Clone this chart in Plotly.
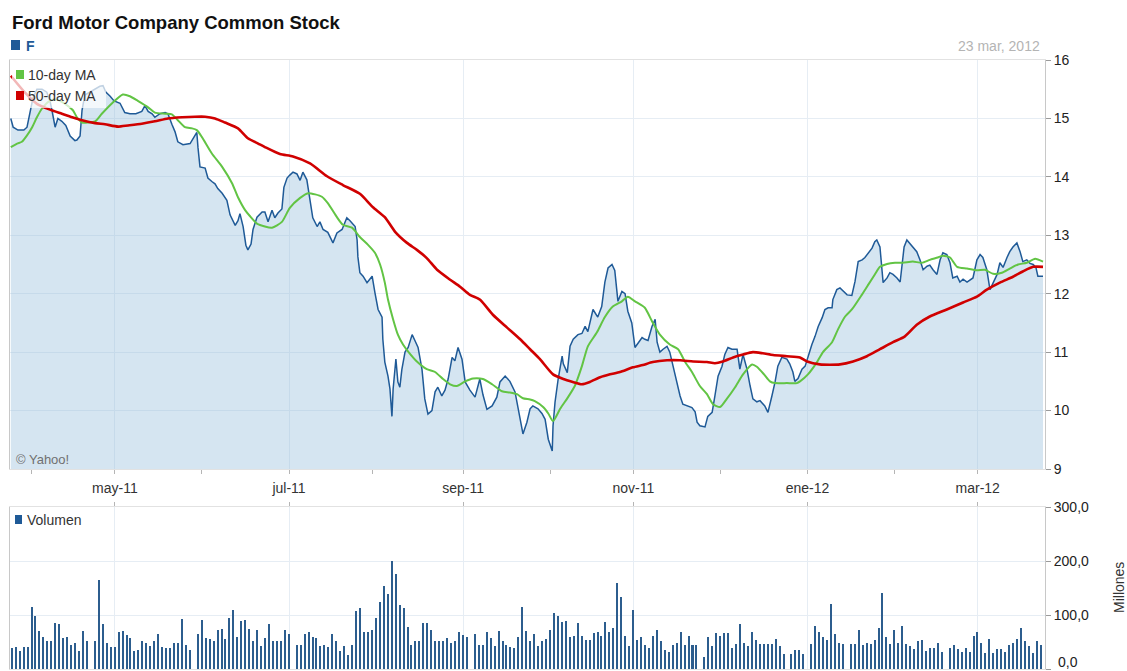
import pandas as pd
import plotly.graph_objects as go

# ---------------- data ----------------
# x positions are weekday positions counted from Fri 2011-03-25 (0) to Fri 2012-03-23 (260)
price_pos = [
    -0.3, 0.3, 1.5, 3.0, 3.8, 4.5, 5.3, 6.3, 7.6, 8.8,
    9.6, 10.1, 10.9, 11.6, 12.6, 13.6, 14.7, 15.9, 16.4, 17.2,
    17.7, 18.4, 19.7, 21.0, 22.2, 23.0, 23.7, 24.8, 25.8, 27.3,
    28.5, 29.8, 31.3, 32.8, 33.6, 34.4, 35.4, 36.1, 37.4, 38.7,
    39.4, 40.4, 41.2, 41.9, 43.2, 45.0, 45.7, 46.7, 47.0, 47.5,
    48.8, 49.5, 50.5, 51.3, 52.0, 53.1, 54.3, 55.1, 56.4, 57.1,
    57.6, 58.4, 59.1, 59.6, 60.4, 60.9, 61.9, 63.2, 63.9, 64.7,
    65.7, 66.4, 67.2, 68.2, 68.7, 69.5, 70.2, 71.0, 72.0, 72.8,
    73.5, 74.5, 75.3, 76.0, 77.1, 77.8, 78.6, 79.8, 81.1, 82.1,
    83.4, 84.6, 85.4, 86.7, 87.2, 87.4, 87.9, 88.7, 89.7, 90.5,
    91.0, 91.7, 92.5, 93.5, 93.7, 94.2, 95.0, 95.5, 96.0, 96.3,
    97.0, 97.5, 98.0, 98.5, 99.3, 100.1, 101.1, 101.8, 102.6, 103.6,
    104.3, 105.1, 106.1, 106.9, 107.6, 108.6, 109.4, 110.2, 111.2, 111.9,
    112.7, 113.7, 114.5, 115.7, 117.0, 118.2, 119.0, 120.0, 121.3, 122.5,
    123.3, 124.6, 125.8, 127.1, 127.8, 128.8, 129.1, 130.1, 130.9, 131.6,
    132.9, 133.9, 134.7, 135.5, 136.5, 136.7, 137.2, 138.0, 139.0, 139.3,
    140.3, 141.0, 141.8, 143.0, 144.0, 144.8, 145.5, 146.8, 148.0, 149.0,
    149.8, 150.6, 151.6, 152.3, 153.1, 154.1, 154.9, 155.6, 156.6, 157.4,
    158.2, 159.2, 159.9, 160.7, 161.7, 162.5, 163.0, 163.7, 164.5, 165.5,
    166.2, 167.0, 168.0, 168.8, 169.5, 170.5, 171.8, 172.6, 173.1, 173.8,
    175.1, 175.8, 176.9, 177.6, 178.4, 179.4, 180.1, 180.9, 181.9, 183.2,
    183.9, 184.7, 185.7, 186.5, 187.2, 188.2, 189.0, 190.2, 191.0, 192.0,
    192.8, 193.5, 194.5, 195.8, 196.5, 197.3, 197.8, 198.6, 199.6, 200.4,
    201.1, 202.1, 202.9, 203.7, 204.7, 205.4, 206.2, 207.2, 207.4, 208.4,
    209.2, 210.0, 211.0, 212.2, 213.0, 213.8, 214.8, 215.5, 216.3, 217.3,
    218.0, 218.5, 219.3, 219.8, 220.1, 221.1, 221.8, 222.6, 223.6, 224.4,
    224.9, 225.4, 226.1, 226.9, 227.6, 228.6, 229.4, 230.2, 231.2, 231.9,
    232.7, 233.7, 234.5, 235.2, 236.2, 237.0, 237.7, 238.8, 239.5, 240.3,
    241.3, 242.0, 242.8, 243.8, 244.6, 245.3, 246.3, 247.1, 247.9, 248.9,
    249.6, 250.4, 251.4, 252.1, 252.9, 253.9, 254.7, 255.4, 256.4, 257.2,
    258.0, 258.7, 259.2, 260.5,
]
price_val = [
    15.0, 14.85, 14.8, 14.8, 14.85, 15.1, 15.35, 15.5, 15.5, 15.45,
    15.3, 15.14, 14.85, 15.0, 14.95, 14.88, 14.7, 14.62, 14.63, 14.7,
    15.14, 15.4, 15.45, 15.5, 15.55, 15.56, 15.45, 15.38, 15.3, 15.26,
    15.1, 15.08, 15.08, 15.12, 15.22, 15.12, 15.08, 15.02, 15.08, 15.1,
    15.08, 14.9, 14.77, 14.6, 14.55, 14.57, 14.65, 14.76, 14.5, 14.17,
    14.15, 13.98, 13.92, 13.88, 13.8, 13.72, 13.6, 13.35, 13.17, 13.25,
    13.37, 13.15, 12.83, 12.75, 12.85, 13.1, 13.31, 13.4, 13.4, 13.23,
    13.43, 13.3, 13.38, 13.45, 13.82, 13.98, 14.03, 14.08, 14.05, 13.94,
    14.08, 13.95, 13.6, 13.3, 13.15, 13.23, 13.1, 13.05, 12.87, 13.04,
    13.1, 13.3, 13.25, 13.15, 12.92, 12.63, 12.36, 12.3, 12.19, 12.25,
    12.3, 12.02, 11.73, 11.6, 11.22, 10.83, 10.59, 10.37, 9.9, 10.37,
    10.88, 10.49, 10.4, 10.7, 11.0, 11.08, 11.3, 11.2, 11.08, 10.7,
    10.2, 9.94, 10.0, 10.32, 10.4, 10.25, 10.35, 10.54, 10.91, 10.85,
    11.08, 10.88, 10.49, 10.35, 10.23, 10.54, 10.27, 10.02, 10.08, 10.23,
    10.49, 10.59, 10.5, 10.32, 10.08, 9.74, 9.6, 9.8, 10.03, 10.08,
    10.03, 9.95, 9.85, 9.51, 9.31, 9.74, 10.14, 10.54, 10.93, 10.8,
    10.65, 11.1, 11.22, 11.3, 11.32, 11.44, 11.35, 11.73, 11.6, 11.78,
    12.2, 12.44, 12.5, 12.4, 11.87, 12.04, 12.0, 11.7, 11.5, 11.08,
    11.15, 11.25, 11.22, 11.2, 11.44, 11.56, 11.17, 11.0, 11.05, 11.1,
    11.0, 10.76, 10.49, 10.25, 10.11, 10.08, 10.05, 9.98, 9.8, 9.74,
    9.72, 9.9, 9.97, 10.25, 10.59, 10.76, 10.96, 11.08, 11.05, 11.05,
    10.71, 10.96, 10.71, 10.42, 10.2, 10.15, 10.17, 10.08, 9.97, 10.25,
    10.49, 10.76, 10.91, 10.88, 10.8, 10.66, 10.5, 10.55, 10.71, 10.76,
    10.93, 11.13, 11.27, 11.44, 11.59, 11.73, 11.76, 11.76, 11.9, 12.07,
    12.1, 12.05, 11.98, 11.97, 12.21, 12.55, 12.58, 12.62, 12.7, 12.78,
    12.89, 12.92, 12.8, 12.44, 12.19, 12.27, 12.36, 12.33, 12.27, 12.2,
    12.46, 12.8, 12.92, 12.86, 12.8, 12.72, 12.58, 12.41, 12.47, 12.49,
    12.41, 12.33, 12.58, 12.7, 12.67, 12.53, 12.27, 12.3, 12.2, 12.25,
    12.2, 12.24, 12.27, 12.58, 12.67, 12.62, 12.41, 12.07, 12.2, 12.33,
    12.53, 12.45, 12.62, 12.72, 12.8, 12.87, 12.72, 12.55, 12.58, 12.52,
    12.5, 12.45, 12.3, 12.3,
]

ma10_pos = [
    -0.3, 1.3, 2.5, 3.8, 5.1, 6.3, 7.6, 9.6, 11.4, 13.4,
    15.4, 16.4, 17.7, 19.2, 21.0, 22.7, 25.3, 28.0, 29.8, 31.8,
    34.4, 36.1, 38.7, 40.4, 41.9, 43.7, 45.5, 46.7, 48.0, 50.5,
    53.1, 55.6, 57.1, 58.9, 60.1, 61.9, 63.9, 65.7, 68.2, 70.2,
    72.8, 74.8, 76.6, 78.3, 79.8, 82.1, 83.6, 85.9, 87.9, 89.9,
    91.7, 93.0, 94.2, 95.0, 96.3, 97.5, 98.8, 100.1, 102.3, 104.8,
    106.9, 108.9, 110.7, 112.4, 114.5, 116.5, 119.0, 121.3, 123.8, 125.8,
    127.6, 129.1, 130.9, 132.1, 134.2, 135.5, 136.7, 138.5, 140.5, 142.2,
    144.0, 145.5, 147.8, 149.8, 151.8, 154.1, 155.6, 157.4, 159.9, 161.7,
    163.7, 166.2, 168.3, 170.0, 171.8, 173.8, 175.6, 177.1, 178.9, 180.6,
    182.7, 184.7, 187.0, 188.2, 190.0, 191.5, 192.8, 195.8, 198.3, 199.1,
    201.1, 203.4, 204.9, 207.2, 208.7, 210.5, 212.2, 214.7, 216.4, 218.0,
    219.3, 221.1, 223.1, 225.1, 227.6, 229.9, 231.9, 233.9, 235.2, 237.0,
    238.8, 241.3, 243.8, 245.8, 247.9, 250.1, 252.1, 254.2, 256.4, 258.5, 260.5,
]
ma10_val = [
    14.51, 14.57, 14.6, 14.71, 14.85, 15.02, 15.17, 15.3, 15.32, 15.25,
    15.14, 15.02, 14.93, 14.93, 14.95, 15.08, 15.26, 15.41, 15.38, 15.3,
    15.19, 15.1, 15.08, 15.07, 14.97, 14.85, 14.83, 14.8, 14.68, 14.4,
    14.17, 13.89, 13.65, 13.43, 13.33, 13.2, 13.15, 13.13, 13.23, 13.47,
    13.64, 13.72, 13.7, 13.66, 13.55, 13.31, 13.18, 13.13, 12.97, 12.84,
    12.7, 12.5, 12.19, 11.9, 11.56, 11.3, 11.13, 11.01, 10.84, 10.71,
    10.66, 10.54, 10.45, 10.42, 10.5, 10.55, 10.54, 10.45, 10.33, 10.31,
    10.28, 10.21, 10.19, 10.16, 10.06, 9.95, 9.82, 10.03, 10.23, 10.42,
    10.76, 11.1, 11.34, 11.6, 11.78, 11.87, 11.95, 11.87, 11.76, 11.53,
    11.3, 11.13, 11.05, 10.84, 10.66, 10.42, 10.28, 10.11, 10.06, 10.2,
    10.4, 10.62, 10.79, 10.75, 10.62, 10.5, 10.47, 10.47, 10.47, 10.5,
    10.62, 10.83, 11.0, 11.17, 11.39, 11.61, 11.73, 11.98, 12.16, 12.33,
    12.46, 12.51, 12.53, 12.53, 12.55, 12.53, 12.58, 12.62, 12.65, 12.62,
    12.46, 12.43, 12.4, 12.41, 12.34, 12.36, 12.43, 12.5, 12.53, 12.6, 12.55,
]

ma50_pos = [
    -0.3, 3.3, 6.3, 9.6, 12.6, 15.2, 17.7, 21.0, 23.5, 26.8,
    29.3, 32.8, 36.1, 39.4, 43.0, 46.2, 48.8, 51.3, 53.8, 57.1,
    59.6, 62.2, 63.9, 67.7, 71.0, 75.3, 79.6, 83.6, 87.9, 91.2,
    94.2, 96.8, 99.8, 102.3, 104.8, 107.4, 110.7, 113.2, 115.7, 118.2,
    121.5, 125.1, 128.4, 130.9, 133.4, 136.7, 139.3, 141.7, 144.0, 146.0,
    148.6, 151.1, 153.6, 156.9, 159.4, 161.9, 165.5, 168.8, 172.1, 175.6,
    177.6, 179.6, 182.2, 184.7, 187.2, 189.7, 192.3, 195.8, 199.1, 200.9,
    204.1, 209.2, 212.5, 216.0, 219.3, 222.6, 225.6, 228.6, 231.9, 236.2,
    240.3, 243.8, 246.3, 249.6, 252.9, 255.4, 258.0, 260.5,
]
ma50_val = [
    15.73, 15.44, 15.25, 15.15, 15.08, 15.02, 14.97, 14.92, 14.9, 14.86,
    14.88, 14.91, 14.95, 15.0, 15.02, 15.03, 15.03, 15.0, 14.93, 14.83,
    14.66, 14.57, 14.51, 14.39, 14.35, 14.23, 14.01, 13.86, 13.71, 13.48,
    13.31, 13.06, 12.87, 12.75, 12.61, 12.41, 12.24, 12.12, 11.98, 11.9,
    11.64, 11.42, 11.22, 11.05, 10.88, 10.62, 10.54, 10.49, 10.45, 10.49,
    10.57, 10.62, 10.66, 10.74, 10.78, 10.83, 10.86, 10.86, 10.84, 10.83,
    10.81, 10.84, 10.91, 10.96, 11.0, 10.98, 10.95, 10.93, 10.91, 10.84,
    10.79, 10.79, 10.84, 10.93, 11.05, 11.17, 11.27, 11.47, 11.61, 11.73,
    11.85, 11.95, 12.07, 12.19, 12.29, 12.38, 12.46, 12.46,
]

# daily volume, millions, one value per trading day
volume = [
    38, 40, 33, 40, 40, 115, 98, 70, 60, 51, 51, 85, 83, 58, 60, 45, 48, 33, 70, 52,
    52, 165, 83, 48, 40, 40, 68, 70, 63, 58, 33, 36, 52, 48, 43, 51, 65, 40, 38, 38,
    48, 48, 93, 45, 36,
    65, 90, 58, 55, 52, 73, 75, 55, 95, 110, 60, 88, 90, 75, 51, 73, 43, 58, 83, 51,
    52, 52, 73, 65,
    45, 45, 65, 68, 60, 58, 43, 45, 40, 65, 52, 33, 43, 26, 45, 108, 113, 68, 68, 73,
    95, 125, 153, 138, 200, 176, 118, 113, 78, 45, 52, 51, 85, 85, 73, 51, 52, 51, 58, 48,
    51, 68, 63, 60,
    65, 45, 45, 68, 58, 43, 70, 52, 45, 40, 38, 60, 115, 70, 52, 65, 43, 52, 55, 73,
    103, 98,
    87, 89, 59, 61, 85, 61, 54, 54, 67, 69, 61, 87, 69, 76, 159, 134, 61, 42, 109, 54,
    59, 44, 39, 61, 72, 52, 35, 32, 44, 49, 69, 44, 61, 44, 44,
    22, 59, 42, 66, 61, 66, 66, 39, 47, 84, 49, 42, 69, 54, 47, 47, 47, 47, 56, 42, 27,
    27, 35, 35, 27,
    47, 79, 69, 59, 54, 121, 64, 49, 47,
    47, 47, 72, 44, 49, 47, 54, 76, 141, 59, 47, 72, 49, 79, 47, 42, 37, 52, 54, 34,
    39, 39, 49, 32,
    39, 44, 37, 32, 39, 32, 62, 69, 49, 29, 56, 29, 37, 37, 32, 44, 49, 56, 76, 52,
    42, 29, 52, 44,
]

holidays = ["2011-04-22", "2011-05-30", "2011-07-04", "2011-09-05", "2011-11-24",
            "2011-12-26", "2012-01-02", "2012-01-16", "2012-02-20"]
tick_months = ["2011-05-01", "2011-07-01", "2011-09-01", "2011-11-01", "2012-01-01", "2012-03-01"]
tick_text = ["may-11", "jul-11", "sep-11", "nov-11", "ene-12", "mar-12"]
minor_months = ["2011-04-01", "2011-06-01", "2011-08-01", "2011-10-01", "2011-12-01", "2012-02-01"]
vol_ticks = [0, 100, 200, 300]
vol_ticktext = ["", "100,0", "200,0", "300,0"]   # "0,0" drawn as an annotation (kept inside the page)

assert len(price_pos) == len(price_val)
assert len(ma10_pos) == len(ma10_val)
assert len(ma50_pos) == len(ma50_val)

weekdays = pd.bdate_range("2011-03-25", "2012-03-23")
trading = weekdays[~weekdays.isin(pd.to_datetime(holidays))]
assert len(trading) == len(volume), (len(trading), len(volume))
trade_pos = [weekdays.get_loc(d) for d in trading]


def wpos(d):
    return int(weekdays.searchsorted(pd.Timestamp(d)))


tickvals = [wpos(d) for d in tick_months]
minorvals = [wpos(d) for d in minor_months]

# ---------------- figure ----------------
W, H = 1127, 671
PL, PR, PT, PB = 10, 1045, 60, 669       # plot box in window pixels
ML, MR, MT, MB = PL, W - PR, PT, H - PB
plot_h = H - MT - MB
plot_w = W - ML - MR


def py(ypix):  # window pixel row -> paper y
    return (PB - ypix) / plot_h


def px(xpix):  # window pixel column -> paper x
    return (xpix - PL) / plot_w


price_dom = [py(469), 1.0]
vol_dom = [0.0, py(507)]

BLUE = "#1f5a97"
GREEN = "#62c444"
RED = "#d00000"
GRID = "#e6edf4"
FONT = "Liberation Sans, Arial, sans-serif"

fig = go.Figure()
fig.add_trace(go.Scatter(
    x=price_pos, y=price_val, mode="lines", name="F",
    line=dict(color=BLUE, width=1.5),
    fill="tozeroy", fillcolor="rgba(150,190,220,0.40)",
    xaxis="x", yaxis="y", hoverinfo="skip"))
fig.add_trace(go.Scatter(
    x=ma10_pos, y=ma10_val, mode="lines", name="10-day MA",
    line=dict(color=GREEN, width=2, shape="spline", smoothing=0.6),
    xaxis="x", yaxis="y", hoverinfo="skip"))
fig.add_trace(go.Scatter(
    x=ma50_pos, y=ma50_val, mode="lines", name="50-day MA",
    line=dict(color=RED, width=2.6, shape="spline", smoothing=0.6),
    xaxis="x", yaxis="y", hoverinfo="skip"))
fig.add_trace(go.Bar(
    x=trade_pos, y=volume, name="Volumen",
    marker=dict(color="#2c5d8e", line=dict(width=0)), width=0.38,
    xaxis="x2", yaxis="y2", hoverinfo="skip"))

xrange = [-0.5, 261.0]
common_x = dict(range=xrange, tickmode="array", tickvals=tickvals, automargin=False,
                showgrid=True, gridcolor=GRID, gridwidth=1, zeroline=False,
                showline=True, linecolor="#e2e2e2", mirror=True,
                ticks="outside", ticklen=4, tickcolor="#b5b5b5")
common_y = dict(side="right", automargin=False, tickmode="array",
                showgrid=True, gridcolor=GRID, zeroline=False,
                showline=True, linecolor="#c8c8c8", mirror=True,
                ticks="outside", ticklen=5, tickcolor="#9a9a9a",
                tickfont=dict(size=14, color="#222222"))

fig.update_layout(
    width=W, height=H,
    margin=dict(l=ML, r=MR, t=MT, b=MB, autoexpand=False),
    paper_bgcolor="white", plot_bgcolor="white",
    showlegend=False, bargap=0,
    font=dict(family=FONT, color="#333333"),
    xaxis=dict(domain=[0, 1], anchor="y", ticktext=tick_text,
               tickfont=dict(size=14, color="#333333"), ticklabelstandoff=2,
               minor=dict(tickmode="array", tickvals=minorvals, ticks="outside",
                          ticklen=4, tickcolor="#b5b5b5", showgrid=False),
               **common_x),
    yaxis=dict(domain=price_dom, anchor="x", range=[9, 16],
               tickvals=[9, 10, 11, 12, 13, 14, 15, 16], **common_y),
    xaxis2=dict(domain=[0, 1], anchor="y2", side="top", showticklabels=False,
                **common_x),
    yaxis2=dict(domain=vol_dom, anchor="x2", range=[0, 300],
                tickvals=vol_ticks, ticktext=vol_ticktext, **common_y),
)

# legend box inside price panel
fig.add_shape(type="rect", xref="paper", yref="paper",
              x0=px(12), x1=px(106), y0=py(108), y1=py(63),
              fillcolor="rgba(255,255,255,0.72)", line=dict(width=0), layer="above")

squares = [  # (x0, y0, x1, y1, colour) in window pixels
    (11, 40, 20, 50, BLUE),
    (16, 70, 24, 79, GREEN),
    (16, 91, 24, 100, RED),
    (15, 515, 22, 524, BLUE),
]
for x0, y0, x1, y1, c in squares:
    fig.add_shape(type="rect", xref="paper", yref="paper",
                  x0=px(x0), x1=px(x1), y0=py(y1), y1=py(y0),
                  fillcolor=c, line=dict(width=0), layer="above")

texts = [  # (text, x pixel, y pixel, size, colour, bold, anchor)
    ("Ford Motor Company Common Stock", 10, 22, 18.5, "#111111", True, "left"),
    ("F", 24, 46, 14, BLUE, True, "left"),
    ("23 mar, 2012", 1042, 46, 14, "#b4b4b4", False, "right"),
    ("10-day MA", 26, 75, 14, "#333333", False, "left"),
    ("50-day MA", 26, 96, 14, "#333333", False, "left"),
    ("© Yahoo!", 14, 459, 13, "#707070", False, "left"),
    ("Volumen", 25, 520, 14, "#333333", False, "left"),
    ("0,0", 1056, 662, 14, "#222222", False, "left"),
]
for t, x, y, s, c, b, a in texts:
    fig.add_annotation(text=f"<b>{t}</b>" if b else t, xref="paper", yref="paper",
                       x=px(x), y=py(y), xanchor=a, yanchor="middle",
                       showarrow=False, font=dict(size=s, color=c, family=FONT))

fig.add_annotation(text="Millones", xref="paper", yref="paper",
                   x=px(1119), y=py(588), textangle=-90,
                   xanchor="center", yanchor="middle", showarrow=False,
                   font=dict(size=14, color="#333333", family=FONT))

# remove the default 8px page margin so the figure sits at the window's top-left corner
fig.write_html("out.html", config={"displayModeBar": False},
               post_script="document.body.style.margin='0px';document.body.style.overflow='hidden';")
